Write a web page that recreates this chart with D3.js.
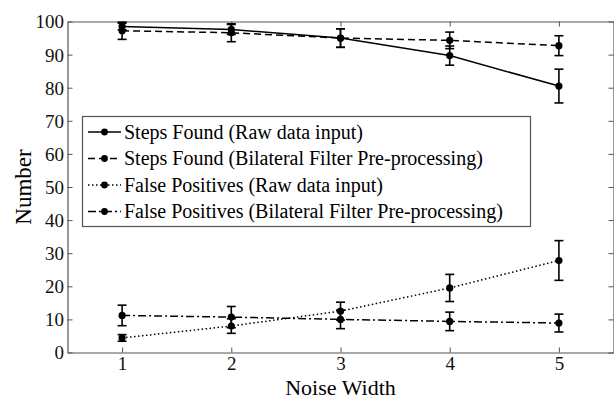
<!DOCTYPE html>
<html>
<head>
<meta charset="utf-8">
<script src="https://cdn.jsdelivr.net/npm/d3@7"></script>
<style>
  html, body { margin: 0; padding: 0; background: #fff; }
  svg { display: block; }
</style>
</head>
<body>
<svg id="chart" width="614" height="399"></svg>
<script>
// Noise widths on the x axis
const noiseWidths = [1, 2, 3, 4, 5];

// Mean values per noise width
const stepsRaw = [98.5, 97.6, 95.0, 89.7, 80.5];
const stepsBilateral = [97.2, 96.6, 95.0, 94.3, 92.7];
const fpRaw = [4.4, 8.0, 12.5, 19.5, 27.8];
const fpBilateral = [11.2, 10.7, 10.0, 9.4, 8.9];

// Half-widths of the error bars
const stepsRawErr = [1.0, 1.5, 2.8, 2.9, 5.1];
const stepsBilateralErr = [2.6, 2.7, 2.8, 2.5, 3.0];
const fpRawErr = [1.0, 2.2, 2.7, 4.1, 6.0];
const fpBilateralErr = [3.1, 3.2, 2.8, 2.8, 2.7];

const seriesNames = [
  "Steps Found (Raw data input)",
  "Steps Found (Bilateral Filter Pre-processing)",
  "False Positives (Raw data input)",
  "False Positives (Bilateral Filter Pre-processing)"
];

const yTicks = [0, 10, 20, 30, 40, 50, 60, 70, 80, 90, 100];
const xTicks = [1, 2, 3, 4, 5];

const series = [
  { name: seriesNames[0], values: stepsRaw, err: stepsRawErr, dash: null },
  { name: seriesNames[1], values: stepsBilateral, err: stepsBilateralErr, dash: "7,4" },
  { name: seriesNames[2], values: fpRaw, err: fpRawErr, dash: "1.5,2.5" },
  { name: seriesNames[3], values: fpBilateral, err: fpBilateralErr, dash: "8,3,2,3" }
];

const FONT = "'Liberation Serif', 'Times New Roman', Tinos, 'DejaVu Serif', 'Noto Serif', serif";

const svg = d3.select("#chart");
const x = d3.scaleLinear().domain([0.5, 5.5]).range([67.5, 613.5]);
const y = d3.scaleLinear().domain([0, 100]).range([352.5, 21.5]);

const axisColor = "#555";
const tickLen = 5;

// Axes frame with inward ticks
const gLeft = svg.append("g").attr("transform", `translate(${x(0.5)},0)`)
  .call(d3.axisLeft(y).tickValues(yTicks).tickSizeInner(-tickLen).tickSizeOuter(0).tickPadding(3.5));
const gBottom = svg.append("g").attr("transform", `translate(0,${y(0)})`)
  .call(d3.axisBottom(x).tickValues(xTicks).tickSizeInner(-tickLen).tickSizeOuter(0).tickPadding(3.5).tickFormat(d3.format("d")));
const gTop = svg.append("g").attr("transform", `translate(0,${y(100)})`)
  .call(d3.axisTop(x).tickValues(xTicks).tickSizeInner(-tickLen).tickSizeOuter(0).tickFormat(""));
const gRight = svg.append("g").attr("transform", `translate(${x(5.5)},0)`)
  .call(d3.axisRight(y).tickValues(yTicks).tickSizeInner(-tickLen).tickSizeOuter(0).tickFormat(""));

[gLeft, gBottom, gTop, gRight].forEach(g => {
  g.attr("font-family", FONT).attr("font-size", 19);
  g.selectAll(".domain").attr("stroke", axisColor).attr("stroke-width", 1.2);
  g.selectAll(".tick line").attr("stroke", axisColor).attr("stroke-width", 1);
  g.selectAll(".tick text").attr("fill", "#111");
});
gLeft.selectAll(".tick text").attr("dy", "0.34em");
gBottom.selectAll(".tick text").attr("dy", "0.75em");

// Series lines
const line = d3.line().x((d, i) => x(noiseWidths[i])).y(d => y(d));
series.forEach(s => {
  svg.append("path")
    .datum(s.values)
    .attr("d", line)
    .attr("fill", "none")
    .attr("stroke", "#000")
    .attr("stroke-width", 1.5)
    .attr("stroke-dasharray", s.dash);
});

// Error bars and markers
const capHalf = 4.5;
series.forEach(s => {
  const g = svg.append("g");
  s.values.forEach((v, i) => {
    const cx = x(noiseWidths[i]);
    const lo = y(v - s.err[i]), hi = y(v + s.err[i]);
    g.append("line").attr("x1", cx).attr("x2", cx).attr("y1", lo).attr("y2", hi)
      .attr("stroke", "#000").attr("stroke-width", 1.6);
    [lo, hi].forEach(yy => g.append("line")
      .attr("x1", cx - capHalf).attr("x2", cx + capHalf).attr("y1", yy).attr("y2", yy)
      .attr("stroke", "#000").attr("stroke-width", 1.6));
    g.append("circle").attr("cx", cx).attr("cy", y(v)).attr("r", 3.6).attr("fill", "#000");
  });
});

// Legend
const legend = svg.append("g").attr("font-family", FONT).attr("font-size", 20);
legend.append("rect")
  .attr("x", 82.5).attr("y", 116.5).attr("width", 448).attr("height", 110)
  .attr("fill", "#fff").attr("stroke", axisColor).attr("stroke-width", 1.2);
series.forEach((s, i) => {
  const cy = 132 + i * 26.5;
  legend.append("line").attr("x1", 88).attr("x2", 121).attr("y1", cy).attr("y2", cy)
    .attr("stroke", "#000").attr("stroke-width", 1.5).attr("stroke-dasharray", s.dash);
  legend.append("circle").attr("cx", 104.5).attr("cy", cy).attr("r", 3.4).attr("fill", "#000");
  legend.append("text").attr("x", 124).attr("y", cy).attr("dy", "0.34em")
    .attr("fill", "#000").text(s.name);
});

// Axis titles
svg.append("text")
  .attr("transform", `translate(31,${(y(0) + y(100)) / 2}) rotate(-90)`)
  .attr("text-anchor", "middle")
  .attr("font-family", FONT).attr("font-size", 23)
  .text("Number");
svg.append("text")
  .attr("x", x(3)).attr("y", 394.5)
  .attr("text-anchor", "middle")
  .attr("font-family", FONT).attr("font-size", 22)
  .text("Noise Width");
</script>
</body>
</html>
